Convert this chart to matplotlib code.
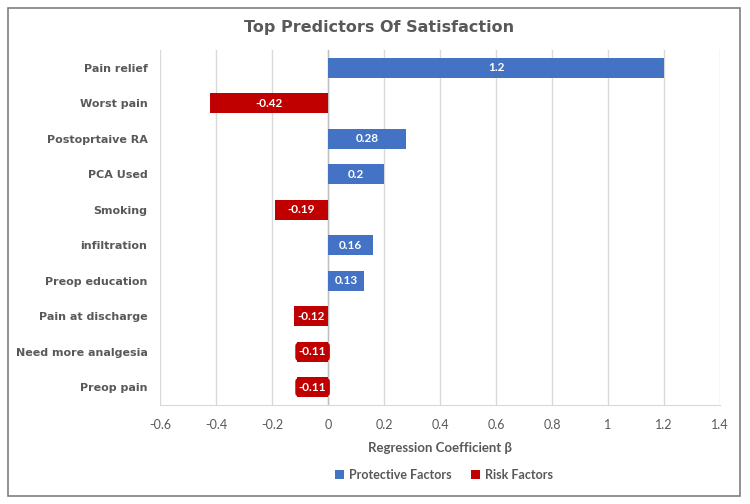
import matplotlib
matplotlib.use("Agg")
import matplotlib.pyplot as plt
from matplotlib.patches import Patch, Rectangle

categories = ["Pain relief", "Worst pain", "Postoprtaive RA", "PCA Used", "Smoking",
              "infiltration", "Preop education", "Pain at discharge",
              "Need more analgesia", "Preop pain"]
values = [1.2, -0.42, 0.28, 0.2, -0.19, 0.16, 0.13, -0.12, -0.11, -0.11]
xticks = [-0.6, -0.4, -0.2, 0, 0.2, 0.4, 0.6, 0.8, 1, 1.2, 1.4]
xtick_labels = ["-0.6", "-0.4", "-0.2", "0", "0.2", "0.4", "0.6", "0.8", "1", "1.2", "1.4"]
series_names = ["Protective Factors", "Risk Factors"]

BLUE = "#4472C4"
RED = "#C00000"
GRAY = "#595959"

fig = plt.figure(figsize=(7.5, 5.04), dpi=100)
ax = fig.add_axes([0.2133, 0.1964, 0.7467, 0.7044])

# outer border
fig.patches.append(Rectangle((0.011, 0.016), 0.976, 0.968, transform=fig.transFigure,
                             fill=False, edgecolor="#7f7f7f", linewidth=1.2))

ypos = list(range(len(categories)))
colors = [BLUE if v >= 0 else RED for v in values]
ax.barh(ypos, values, height=0.57, color=colors, zorder=3)

for y, v in zip(ypos, values):
    txt = f"{v:g}"
    kw = dict(ha="center", va="center", color="white", fontsize=8.5,
              fontweight="bold", family="Lato", zorder=4)
    if abs(v) < 0.12:
        kw["bbox"] = dict(boxstyle="round,pad=0.3", facecolor=RED, edgecolor="none")
    ax.text(v / 2, y, txt, **kw)

ax.set_ylim(len(categories) - 0.5, -0.5)
ax.set_yticks(ypos)
ax.set_yticklabels(categories, fontsize=8, fontweight="bold", color=GRAY, family="DejaVu Sans")
ax.set_xlim(-0.6, 1.4)
ax.set_xticks(xticks)
ax.set_xticklabels(xtick_labels, fontsize=9, color=GRAY, family="Lato")
ax.tick_params(axis="both", length=0)
ax.tick_params(axis="x", pad=10)
ax.tick_params(axis="y", pad=9)
ax.grid(axis="x", color="#d9d9d9", linewidth=1, zorder=0)
ax.axvline(0, color="#bfbfbf", linewidth=1, zorder=2)
for s in ["top", "right", "left"]:
    ax.spines[s].set_visible(False)
ax.spines["bottom"].set_color("#d9d9d9")

ax.set_xlabel("Regression Coefficient β", fontsize=9.5, fontweight="bold", color=GRAY,
              family="Lato", labelpad=8)

fig.text(0.505, 0.946, "Top Predictors Of Satisfaction", ha="center", va="center",
         fontsize=11.5, fontweight="bold", color="#595959", family="DejaVu Sans")

handles = [Patch(facecolor=BLUE, edgecolor="none"), Patch(facecolor=RED, edgecolor="none")]
leg = fig.legend(handles, series_names, loc="center", bbox_to_anchor=(0.592, 0.058), ncol=2,
                 frameon=False, handlelength=0.7, handleheight=0.7, handletextpad=0.4,
                 columnspacing=1.6, prop={"family": "Lato", "weight": "bold", "size": 9})
for t in leg.get_texts():
    t.set_color(GRAY)

fig.savefig("out.png", dpi=100)
